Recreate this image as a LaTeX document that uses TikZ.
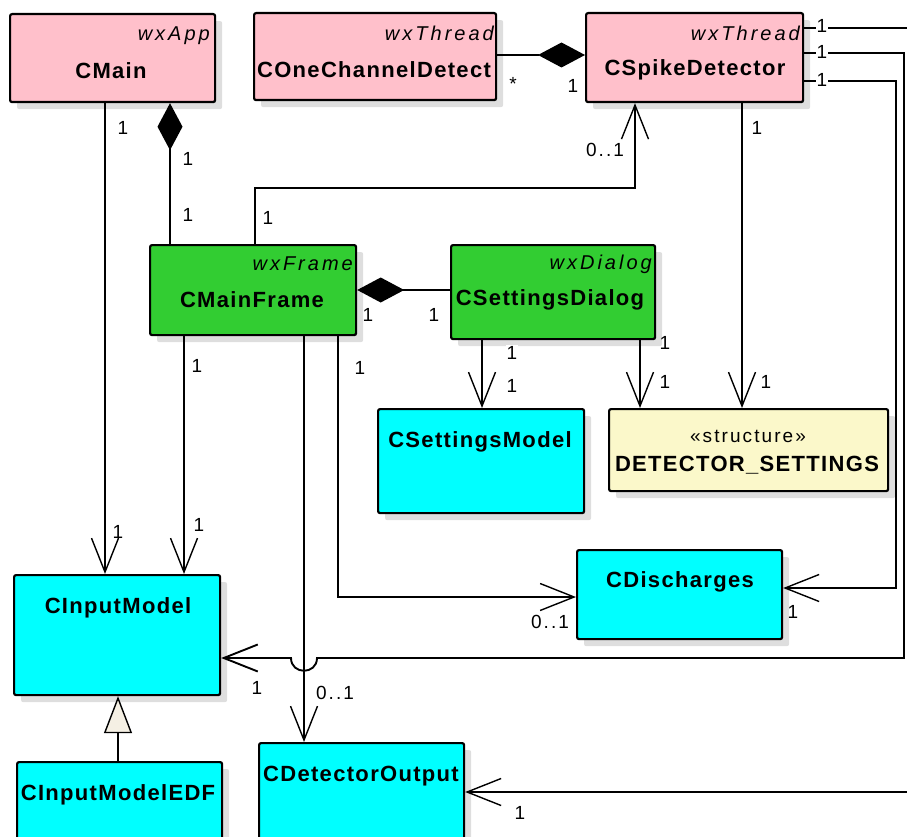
\documentclass[tikz,border=0pt]{standalone}
\usepackage{fontspec}
\setmainfont{Liberation Sans}
\newfontfamily\namefont[LetterSpace=6]{Liberation Sans}
\newfontfamily\stereofont[LetterSpace=15]{Liberation Sans}
\newfontfamily\multfont[LetterSpace=11]{Liberation Sans}
\usetikzlibrary{arrows.meta,positioning,shadows}
\definecolor{ClassPink}{RGB}{255,192,203}
\definecolor{ClassGreen}{RGB}{50,205,50}
\definecolor{ClassCyan}{RGB}{0,255,255}
\definecolor{StructYellow}{RGB}{251,248,202}
\definecolor{ShadowGray}{RGB}{222,222,222}
\definecolor{GenFill}{RGB}{245,240,228}

\begin{document}
\begin{tikzpicture}[x=1pt, y=-1pt,
 classbox/.style={draw, line width=2.2pt, rounded corners=2pt, anchor=north west, inner sep=0pt, drop shadow={shadow xshift=7pt, shadow yshift=-7pt, fill=ShadowGray, opacity=1}},
 cname/.style={font=\namefont\bfseries\fontsize{22}{26}\selectfont, inner sep=0pt},
 stereo/.style={font=\stereofont\itshape\fontsize{20}{24}\selectfont, inner sep=0pt, anchor=east},
 mult/.style={font=\multfont\fontsize{19}{23}\selectfont, inner sep=0pt},
 arr/.style={-{Straight Barb[length=34pt,width=27pt]}, line width=1.4pt},
 comp/.style={{Diamond[length=47pt,width=25pt]}-, line width=1.4pt},
 gen/.style={-{Triangle[length=37pt,width=28pt,fill=GenFill]}, line width=1.4pt}
]
\useasboundingbox (0,0) rectangle (907,837);

\node[classbox, fill=ClassPink, minimum width=205pt, minimum height=88pt] (cmain) at (9,13) {};
\node[stereo] (cmainst) at (210,36) {wxApp};
\node[cname] (cmainname) at (111,71) {CMain};

\node[classbox, fill=ClassPink, minimum width=242pt, minimum height=87pt] (conech) at (253,12) {};
\node[stereo] (conechst) at (494,33) {wxThread};
\node[cname] (conechname) at (374,70) {COneChannelDetect};

\node[classbox, fill=ClassPink, minimum width=217pt, minimum height=89pt] (cspike) at (585,12) {};
\node[stereo] (cspikest) at (800,33) {wxThread};
\node[cname] (cspikename) at (695,70) {CSpikeDetector};

\node[classbox, fill=ClassGreen, minimum width=206pt, minimum height=90pt] (cframe) at (149,244) {};
\node[stereo] (cframest) at (353,264) {wxFrame};
\node[cname] (cframename) at (252,300) {CMainFrame};

\node[classbox, fill=ClassGreen, minimum width=204pt, minimum height=94pt] (cdialog) at (450,244) {};
\node[stereo] (cdialogst) at (652,264) {wxDialog};
\node[cname] (cdialogname) at (550,300) {CSettingsDialog};

\node[classbox, fill=ClassCyan, minimum width=206pt, minimum height=104pt] (cmodel) at (377,408) {};
\node[cname] (cmodelname) at (480,442) {CSettingsModel};

\node[classbox, fill=StructYellow, minimum width=279pt, minimum height=82pt] (detset) at (608,408) {};
\node[mult] (detsetst) at (748,436) {«structure»};
\node[cname] (detsetname) at (747,465) {DETECTOR\_SETTINGS};

\node[classbox, fill=ClassCyan, minimum width=205pt, minimum height=89pt] (cdisch) at (576,549) {};
\node[cname] (cdischname) at (680,582) {CDischarges};

\node[classbox, fill=ClassCyan, minimum width=206pt, minimum height=120pt] (cinput) at (13,574) {};
\node[cname] (cinputname) at (118,608) {CInputModel};

\node[classbox, fill=ClassCyan, minimum width=205pt, minimum height=95pt] (cedf) at (16,761) {};
\node[cname] (cedfname) at (118,795) {CInputModelEDF};

\node[classbox, fill=ClassCyan, minimum width=205pt, minimum height=110pt] (cdetout) at (258,742) {};
\node[cname] (cdetoutname) at (361,776) {CDetectorOutput};

\draw[arr] (cmain.south -| 105,0) -- (cinput.north -| 105,0);
\draw[comp] (cmain.south -| 170,0) -- (cframe.north -| 170,0);
\draw[comp] (cspike.west |- 0,55) -- (conech.east |- 0,55);
\draw[arr] (cframe.north -| 255,0) |- (635,188) -- (cspike.south -| 635,0);
\draw[arr] (cspike.south -| 742,0) -- (detset.north -| 742,0);
\draw[comp] (cframe.east |- 0,290) -- (cdialog.west |- 0,290);
\draw[arr] (cdialog.south -| 482,0) -- (cmodel.north -| 482,0);
\draw[arr] (cdialog.south -| 640,0) -- (detset.north -| 640,0);
\draw[arr] (cframe.south -| 184,0) -- (cinput.north -| 184,0);
\draw[arr] (cframe.south -| 304,0) -- (cdetout.north -| 304,0);
\draw[arr] (cframe.south -| 338,0) |- (cdisch.west |- 0,597);
\draw[arr] (cspike.east |- 0,81) -| (896,588) -- (cdisch.east |- 0,588);
\draw[arr, line width=1.9pt] (cspike.east |- 0,53) -| (904,658) -- (317,658) .. controls (317,675) and (291,675) .. (291,658) -- (cinput.east |- 0,658);
\draw[arr] (cspike.east |- 0,28) -| (930,792) -- (cdetout.east |- 0,792);
\draw[gen] (cedf.north -| 118,0) -- (cinput.south -| 118,0);

\node[mult] (m1) at (123,128) {1};
\node[mult] (m2) at (118,532) {1};
\node[mult] (m3) at (188,159) {1};
\node[mult] (m4) at (188,215) {1};
\node[mult] (m5) at (513,84) {*};
\node[mult] (m6) at (573,86) {1};
\node[mult] (m7) at (268,218) {1};
\node[mult] (m8) at (605,150) {0..1};
\node[mult] (m9) at (757,128) {1};
\node[mult] (m10) at (766,382) {1};
\node[mult] (m11) at (368,315) {1};
\node[mult] (m12) at (434,315) {1};
\node[mult, fill=white, inner sep=1pt] (m13) at (512,353) {1};
\node[mult] (m14) at (512,386) {1};
\node[mult] (m15) at (665,343) {1};
\node[mult] (m16) at (665,382) {1};
\node[mult] (m17) at (197,366) {1};
\node[mult] (m18) at (199,525) {1};
\node[mult] (m19) at (360,368) {1};
\node[mult] (m20) at (550,622) {0..1};
\node[mult] (m21) at (793,612) {1};
\node[mult] (m22) at (257,688) {1};
\node[mult] (m23) at (335,693) {0..1};
\node[mult] (m24) at (520,813) {1};
\node[mult, fill=white, inner sep=1pt] (m25) at (822,26) {1};
\node[mult, fill=white, inner sep=1pt] (m26) at (822,52) {1};
\node[mult, fill=white, inner sep=1pt] (m27) at (822,80) {1};
\end{tikzpicture}
\end{document}
